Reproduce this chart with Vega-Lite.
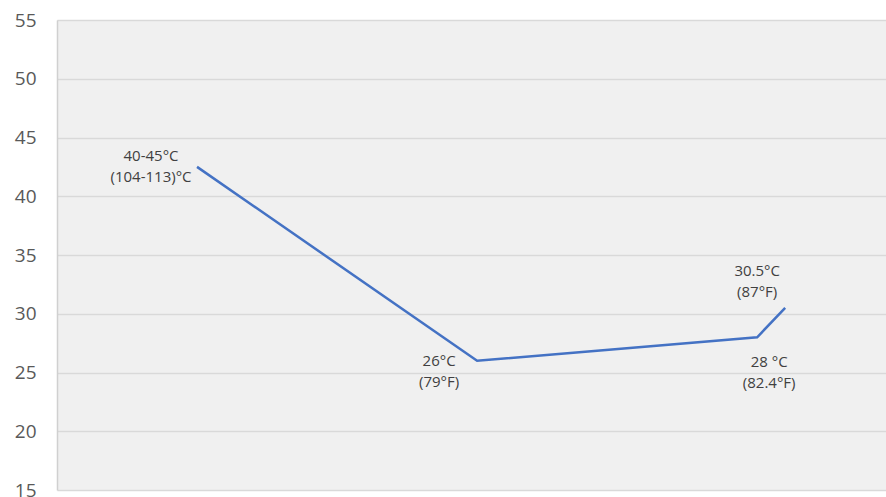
{
  "$schema": "https://vega.github.io/schema/vega-lite/v6.json",
  "width": 829,
  "height": 470,
  "autosize": {"type": "none"},
  "padding": {"left": 57, "top": 20, "right": 0, "bottom": 7},
  "background": "#ffffff",
  "config": {
    "view": {"fill": "#f0f0f0", "stroke": null},
    "font": "Open Sans"
  },
  "data": {
    "values": [
      {"i": 1, "pos": 0.5, "temp": 42.5, "label": ["40-45°C", "(104-113)°C"]},
      {"i": 2, "pos": 1.5, "temp": 26, "label": ["26°C", "(79°F)"]},
      {"i": 3, "pos": 2.5, "temp": 28, "label": ["28 °C", "(82.4°F)"]},
      {"i": 4, "pos": 2.6, "temp": 30.5, "label": ["30.5°C", "(87°F)"]}
    ]
  },
  "encoding": {
    "x": {"field": "pos", "type": "quantitative", "scale": {"domain": [0, 2.96], "nice": false, "zero": false}, "axis": null},
    "y": {
      "field": "temp", "type": "quantitative",
      "scale": {"domain": [15, 55], "nice": false, "zero": false},
      "axis": {
        "title": null, "values": [15, 20, 25, 30, 35, 40, 45, 50, 55],
        "ticks": false, "labelPadding": 21, "labelFontSize": 19, "labelColor": "#595959",
        "labelFont": "Open Sans", "domain": true, "domainColor": "#d0d0d0", "domainWidth": 1.5,
        "gridColor": "#d9d9d9", "gridWidth": 1.5
      }
    }
  },
  "layer": [
    {"mark": {"type": "line", "color": "#4472C4", "strokeWidth": 2.5}},
    {
      "transform": [{"filter": "datum.i == 1"}],
      "mark": {"type": "text", "align": "center", "baseline": "middle", "dx": -46, "dy": -11, "fontSize": 15, "color": "#404040", "lineHeight": 21},
      "encoding": {"text": {"field": "label"}}
    },
    {
      "transform": [{"filter": "datum.i == 2"}],
      "mark": {"type": "text", "align": "center", "baseline": "middle", "dx": -38, "dy": 0, "fontSize": 15, "color": "#404040", "lineHeight": 21},
      "encoding": {"text": {"field": "label"}}
    },
    {
      "transform": [{"filter": "datum.i == 3"}],
      "mark": {"type": "text", "align": "center", "baseline": "middle", "dx": 12, "dy": 25, "fontSize": 15, "color": "#404040", "lineHeight": 21},
      "encoding": {"text": {"field": "label"}}
    },
    {
      "transform": [{"filter": "datum.i == 4"}],
      "mark": {"type": "text", "align": "center", "baseline": "middle", "dx": -28, "dy": -37, "fontSize": 15, "color": "#404040", "lineHeight": 21},
      "encoding": {"text": {"field": "label"}}
    }
  ]
}
